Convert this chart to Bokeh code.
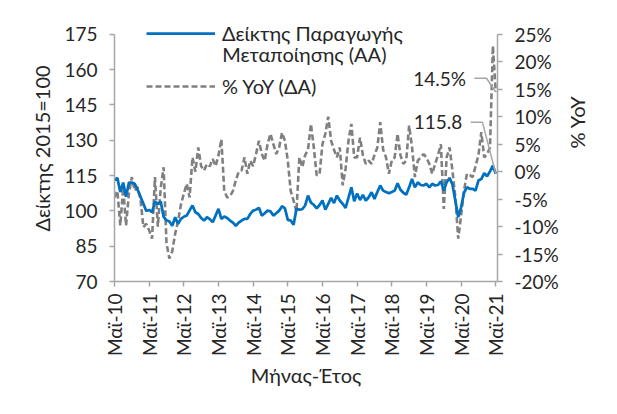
import math
from bokeh.plotting import figure
from bokeh.models import (LinearAxis, Range1d, FixedTicker, PrintfTickFormatter,
                          Legend, LegendItem, Label)
from bokeh.embed import file_html
from bokeh.resources import INLINE

# months counted from May 2010 (0) to May 2021 (132)
months = list(range(133))

# Manufacturing production index, 2015=100 (left axis)
index_values = [
    113.0, 114.0, 108.0, 112.0, 106.0, 112.0, 112.0, 111.5, 109.0, 106.0, 103.0, 100.0,
    100.4, 99.4, 104.0, 103.0, 104.0, 97.5, 96.0, 95.5, 93.7, 97.3, 94.5, 96.6,
    97.5, 98.0, 100.2, 102.3, 99.4, 98.7, 97.0, 95.9, 97.3, 96.5, 95.2, 98.0,
    100.9, 96.6, 97.6, 97.0, 95.9, 95.0, 93.7, 95.0, 95.9, 96.6, 96.6, 98.7,
    100.1, 100.5, 101.3, 98.0, 99.0, 100.1, 99.8, 98.0, 99.0, 100.1, 102.0, 101.1,
    96.2, 95.9, 94.1, 100.9, 100.5, 100.7, 102.3, 106.5, 103.5, 102.6, 101.1, 102.5,
    104.4, 100.5, 103.0, 105.5, 103.3, 106.5, 104.4, 103.0, 101.3, 105.5, 110.0, 104.1,
    107.4, 104.6, 106.8, 104.4, 105.8, 107.9, 105.1, 108.0, 110.8, 108.6, 108.0, 107.5,
    108.0, 108.6, 111.7, 109.0, 107.7, 106.9, 110.0, 113.6, 110.0, 112.1, 111.0, 110.8,
    111.5, 110.0, 111.5, 110.8, 111.0, 112.6, 108.6, 112.2, 114.0, 111.2, 104.4, 97.3,
    101.5, 107.7, 110.0, 109.4, 109.4, 108.6, 112.9, 113.5, 116.0, 114.7, 116.8, 119.2,
    115.8,
]

# Year-on-year change, % (right axis)
yoy_values = [
    -4.7, -3.5, -9.8, -3.0, -9.8, -4.0, -1.0, -3.5, -2.8, -5.0, -10.1, -9.5,
    -10.7, -12.2, -1.0, -10.0, -3.0, 0.8, -13.0, -15.8, -14.5, -11.3, -9.0, -6.0,
    -4.0, -2.2, -4.7, 2.6, 0.0, 4.4, 1.0, 0.2, 1.4, 1.0, 2.3, 1.0,
    3.0, 5.9, -3.5, -4.7, -4.5, -3.5, -1.6, 0.0, 0.2, 2.6, -0.4, 2.0,
    1.0, 3.2, 5.6, 3.2, 2.0, 5.0, 6.9, 5.0, 3.2, 4.4, 7.1, 5.6,
    2.0, -3.5, -5.3, -7.3, 2.6, 0.8, 3.0, 4.0, 8.7, 4.4, -0.7, -0.4,
    5.0, 6.9, 10.0, 5.6, 4.0, 2.6, 4.4, -2.5, 0.5, 5.6, 8.7, 2.6,
    2.6, 6.2, 3.0, 1.4, 2.0, 1.4, 3.0, 4.4, 9.0, 4.0, 2.6, -0.4,
    2.0, 2.6, 6.9, 3.0, 1.4, 2.0, 8.4, 4.5, -1.0, 2.0, 2.6, 3.2,
    2.6, 1.4, -0.4, 1.4, 3.0, 5.0, -6.8, 2.6, 4.4, 0.2, -4.7, -12.2,
    -8.0, -3.5, -0.4, -0.6, -1.0, 1.0, 3.0, 7.2, 2.6, 3.2, 4.4, 22.9,
    14.5,
]

tick_positions = [0, 12, 24, 36, 48, 60, 72, 84, 96, 108, 120, 132]
tick_labels = ["Μαϊ-10", "Μαϊ-11", "Μαϊ-12", "Μαϊ-13", "Μαϊ-14", "Μαϊ-15",
               "Μαϊ-16", "Μαϊ-17", "Μαϊ-18", "Μαϊ-19", "Μαϊ-20", "Μαϊ-21"]
left_ticks = [70, 85, 100, 115, 130, 145, 160, 175]
right_ticks = [-20, -15, -10, -5, 0, 5, 10, 15, 20, 25]

FONT = "Lato"
TEXT = "#262626"
AXIS = "#a6a6a6"
BLUE = "#0070c0"
GRAY = "#808080"
FS_TICK = "19px"
FS = "20px"

LEFT_TOP = 183.0                       # headroom above 175 for the legend
RIGHT_TOP = -20 + (LEFT_TOP - 70) * 45 / 105

p = figure(width=610, height=405, x_range=Range1d(0, 132.6), y_range=Range1d(70, LEFT_TOP),
           output_backend="svg", toolbar_location=None,
           min_border_left=114, min_border_right=113, min_border_top=15, min_border_bottom=124)
p.extra_y_ranges = {"yoy": Range1d(-20, RIGHT_TOP)}
p.outline_line_color = None
p.xgrid.visible = False
p.ygrid.visible = False
p.background_fill_color = "white"
p.border_fill_color = "white"

gray = p.line(months, yoy_values, y_range_name="yoy", line_color=GRAY, line_width=2.6,
              line_dash="6 3")
blue = p.line(months, index_values, line_color=BLUE, line_width=2.75)

right = LinearAxis(y_range_name="yoy", ticker=FixedTicker(ticks=right_ticks),
                   formatter=PrintfTickFormatter(format="%d%%"), axis_label="% YoY",
                   axis_label_orientation=math.pi / 2, bounds=(-20, 25))
p.add_layout(right, "right")

xa = p.xaxis[0]
ya = p.yaxis[0]
xa.ticker = FixedTicker(ticks=tick_positions)
xa.major_label_overrides = {t: l for t, l in zip(tick_positions, tick_labels)}
xa.major_label_orientation = math.pi / 2
xa.axis_label = "Μήνας-Έτος"
xa.major_label_standoff = 7
xa.axis_label_standoff = 4
ya.ticker = FixedTicker(ticks=left_ticks)
ya.bounds = (70, 175)
ya.axis_label = "Δείκτης 2015=100"
ya.major_label_standoff = 12
ya.axis_label_standoff = 7
right.major_label_standoff = 12
right.axis_label_standoff = 15

for ax in (xa, ya, right):
    ax.axis_line_color = AXIS
    ax.axis_line_width = 1.5
    ax.major_tick_line_color = AXIS
    ax.major_tick_line_width = 1.5
    ax.major_tick_out = 5
    ax.major_tick_in = 0
    ax.minor_tick_line_color = None
    ax.major_label_text_font = FONT
    ax.major_label_text_font_size = FS_TICK
    ax.major_label_text_color = TEXT
    ax.axis_label_text_font = FONT
    ax.axis_label_text_font_size = FS
    ax.axis_label_text_font_style = "normal"
    ax.axis_label_text_color = TEXT

# call-outs for the latest values
last_x = months[-1]
p.line([123.3, 127.4, last_x], [137.6, 137.6, index_values[-1]], line_color=AXIS, line_width=1.5)
p.line([124.6, 128.8, last_x], [17.0, 17.0, yoy_values[-1]], y_range_name="yoy",
       line_color=AXIS, line_width=1.5)
p.add_layout(Label(x=120.4, y=137.6, text=f"{index_values[-1]:.1f}", text_align="right",
                   text_baseline="middle", text_font=FONT, text_font_size=FS_TICK,
                   text_color=TEXT))
p.add_layout(Label(x=121.7, y=17.0, y_range_name="yoy", text=f"{yoy_values[-1]:.1f}%",
                   text_align="right", text_baseline="middle", text_font=FONT,
                   text_font_size=FS_TICK, text_color=TEXT))

legend = Legend(items=[LegendItem(label="Δείκτης Παραγωγής", renderers=[blue]),
                       LegendItem(label="% YoY (ΔΑ)", renderers=[gray])],
                location=(32, 183), glyph_width=69, glyph_height=24, label_height=24,
                label_standoff=7, padding=0, margin=0, spacing=29,
                border_line_color=None, background_fill_alpha=0,
                label_text_font=FONT, label_text_font_size=FS, label_text_color=TEXT)
p.add_layout(legend)
# second line of the first legend entry
p.add_layout(Label(x=37.3, y=166.7, text="Μεταποίησης (ΑΑ)", text_align="left",
                   text_baseline="middle", text_font=FONT, text_font_size=FS,
                   text_color=TEXT))

open("out.html", "w").write(file_html(p, INLINE))
